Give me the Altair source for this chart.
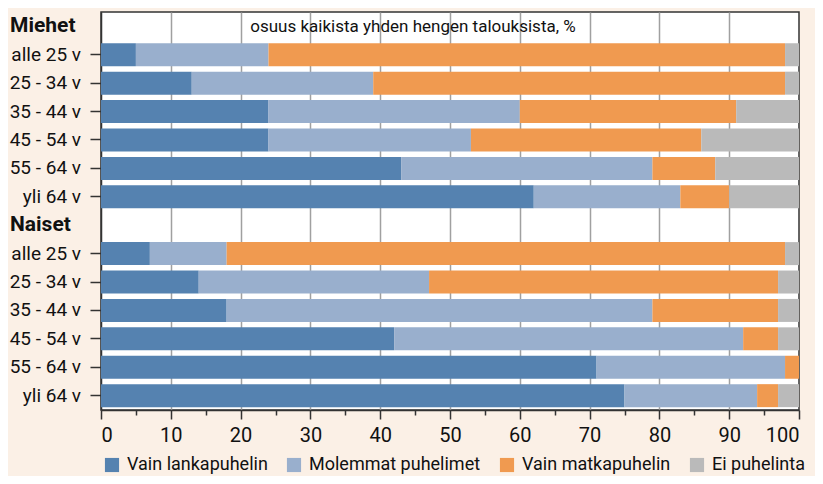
import altair as alt
import pandas as pd

FONT = "Roboto, 'Liberation Sans', sans-serif"

groups = ["Miehet", "Naiset"]
ages = ["alle 25 v", "25 - 34 v", "35 - 44 v", "45 - 54 v", "55 - 64 v", "yli 64 v"]
series = ["Vain lankapuhelin", "Molemmat puhelimet", "Vain matkapuhelin", "Ei puhelinta"]
colors = ["#5582b0", "#99afcd", "#f09a50", "#bababa"]
title_text = "osuus kaikista yhden hengen talouksista, %"
x_ticks = list(range(0, 101, 5))

men_landline = [5, 13, 24, 24, 43, 62]
men_both = [19, 26, 36, 29, 36, 21]
men_mobile = [74, 59, 31, 33, 9, 7]
men_none = [2, 2, 9, 14, 12, 10]

women_landline = [7, 14, 18, 42, 71, 75]
women_both = [11, 33, 61, 50, 27, 19]
women_mobile = [80, 50, 18, 5, 2, 3]
women_none = [2, 3, 3, 3, 0, 3]

group_values = [
    [men_landline, men_both, men_mobile, men_none],
    [women_landline, women_both, women_mobile, women_none],
]

rows, order, age_rows, hdr_rows = [], [], [], []
for g, vals in zip(groups, group_values):
    hk = "H|" + g
    order.append(hk)
    hdr_rows.append({"key": hk, "label": g})
    for i, a in enumerate(ages):
        key = g + "|" + a
        order.append(key)
        age_rows.append({"key": key, "label": a})
        for si, s in enumerate(series):
            rows.append({"key": key, "series": s, "sidx": si, "value": vals[si][i]})

bars_df = pd.DataFrame(rows)
age_df = pd.DataFrame(age_rows)
hdr_df = pd.DataFrame(hdr_rows)
title_df = pd.DataFrame({"t": [title_text]})

yscale = alt.Scale(domain=order, paddingInner=0.19, paddingOuter=0.1)

bars = alt.Chart(bars_df).mark_bar(size=23).encode(
    x=alt.X(
        "value:Q",
        stack="zero",
        scale=alt.Scale(domain=[0, 100], nice=False),
        axis=alt.Axis(
            title=None,
            values=x_ticks,
            labelExpr="datum.value % 10 == 0 ? datum.label : ''",
            tickSize={"condition": {"test": "datum.value % 10 == 0", "value": 9}, "value": 5},
            tickColor="#333",
            tickWidth=1.5,
            domainColor="#333",
            domainWidth=1.5,
            grid=True,
            gridColor="#a0a0a0",
            gridWidth=1.5,
            gridOpacity={
                "condition": {
                    "test": "datum.value % 10 == 0 && datum.value > 0 && datum.value < 100",
                    "value": 1,
                },
                "value": 0,
            },
            labelFont=FONT,
            labelFontSize=20,
            labelColor="#111",
            labelPadding=6,
        ),
    ),
    y=alt.Y(
        "key:N",
        scale=yscale,
        sort=order,
        axis=alt.Axis(
            title=None,
            labels=False,
            grid=False,
            tickSize=11,
            tickWidth=1.5,
            tickColor={
                "condition": {"test": "indexof(datum.value, 'H|') == 0", "value": "transparent"},
                "value": "#333",
            },
            domainColor="#333",
            domainWidth=1.5,
        ),
    ),
    color=alt.Color(
        "series:N",
        scale=alt.Scale(domain=series, range=colors),
        legend=alt.Legend(
            orient="none",
            legendX=2,
            legendY=444,
            direction="horizontal",
            columns=4,
            title=None,
            symbolType="square",
            symbolSize=200,
            symbolStrokeWidth=0,
            labelFont=FONT,
            labelFontSize=18,
            labelColor="#111",
            labelLimit=400,
            labelOffset=6,
            columnPadding=17,
            padding=0,
        ),
    ),
    order=alt.Order("sidx:Q"),
)

age_text = alt.Chart(age_df).mark_text(
    align="right", baseline="middle", font=FONT, fontSize=19, color="#111"
).encode(
    y=alt.Y("key:N", scale=yscale, sort=order),
    x=alt.value(-20),
    text="label:N",
)

hdr_text = alt.Chart(hdr_df).mark_text(
    align="left", baseline="middle", font=FONT, fontSize=21, fontWeight="bold", color="#111"
).encode(
    y=alt.Y("key:N", scale=yscale, sort=order),
    x=alt.value(-91),
    text="label:N",
)

title_mark = alt.Chart(title_df).mark_text(
    align="center", baseline="middle", font=FONT, fontSize=17, color="#111"
).encode(
    x=alt.value(312),
    y=alt.value(15),
    text="t:N",
)

chart = (
    alt.layer(bars, age_text, hdr_text, title_mark)
    .properties(
        width=698,
        height=398,
        padding={"left": 93, "top": 4, "right": 16, "bottom": 66},
        autosize=alt.AutoSizeParams(type="none"),
        background="#fbf0e6",
    )
    .configure_view(fill="white", stroke="#333", strokeWidth=1.5)
)

chart.save("out.html", embed_options={"renderer": "svg", "actions": False})
